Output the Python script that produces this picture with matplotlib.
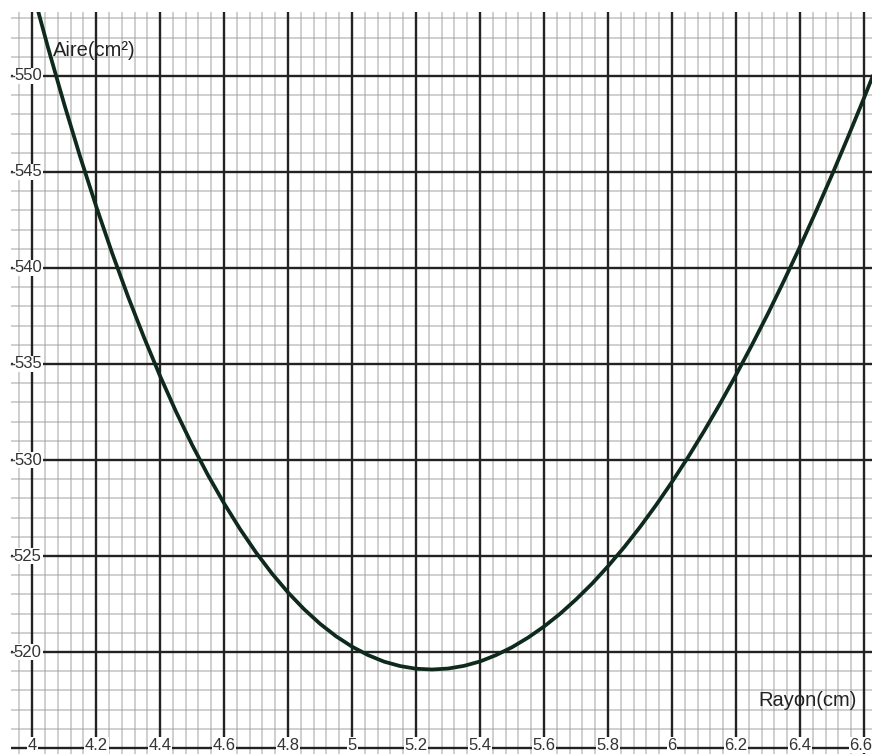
import matplotlib
matplotlib.use("Agg")
import matplotlib.pyplot as plt
import numpy as np

# Data
rayon = [4.00, 4.05, 4.10, 4.15, 4.20, 4.25, 4.30, 4.35, 4.40, 4.45,
         4.50, 4.55, 4.60, 4.65, 4.70, 4.75, 4.80, 4.85, 4.90, 4.95,
         5.00, 5.05, 5.10, 5.15, 5.20, 5.25, 5.30, 5.35, 5.40, 5.45,
         5.50, 5.55, 5.60, 5.65, 5.70, 5.75, 5.80, 5.85, 5.90, 5.95,
         6.00, 6.05, 6.10, 6.15, 6.20, 6.25, 6.30, 6.35, 6.40, 6.45,
         6.50, 6.55, 6.60, 6.65]
aire = [554.53, 551.46, 548.55, 545.80, 543.22, 540.78, 538.50, 536.37, 534.37, 532.51,
        530.79, 529.20, 527.74, 526.40, 525.18, 524.08, 523.10, 522.23, 521.47, 520.82,
        520.28, 519.84, 519.50, 519.27, 519.13, 519.09, 519.14, 519.28, 519.51, 519.84,
        520.25, 520.75, 521.33, 521.99, 522.74, 523.56, 524.47, 525.45, 526.51, 527.65,
        528.86, 530.14, 531.50, 532.93, 534.43, 536.00, 537.63, 539.34, 541.11, 542.95,
        544.85, 546.82, 548.85, 550.94]
x_ticks = [4.0, 4.2, 4.4, 4.6, 4.8, 5.0, 5.2, 5.4, 5.6, 5.8, 6.0, 6.2, 6.4, 6.6]
x_tick_labels = ["4", "4.2", "4.4", "4.6", "4.8", "5", "5.2", "5.4", "5.6", "5.8",
                 "6", "6.2", "6.4", "6.6"]
y_ticks = [520, 525, 530, 535, 540, 545, 550]
y_tick_labels = ["520", "525", "530", "535", "540", "545", "550"]
x_label = "Rayon(cm)"
y_label = "Aire(cm²)"

plt.rcParams['font.family'] = ['Liberation Sans', 'DejaVu Sans']

W, H = 872, 754
fig = plt.figure(figsize=(W / 100, H / 100), dpi=100)
fig.patch.set_facecolor('white')
ax = fig.add_axes([11 / W, 0, (W - 11) / W, (H - 12) / H])

x0, x1 = 3.934, 6.625
y0, y1 = 514.69, 553.33
ax.set_xlim(x0, x1)
ax.set_ylim(y0, y1)
for s in ax.spines.values():
    s.set_visible(False)
ax.set_xticks([])
ax.set_yticks([])

# minor grid
minor_x = np.arange(3.96, 6.64, 0.04)
minor_y = np.arange(515, 554, 1)
for xv in minor_x:
    ax.axvline(xv, color='#9a9a9a', lw=1.2, alpha=0.55, zorder=1)
for yv in minor_y:
    ax.axhline(yv, color='#9a9a9a', lw=1.2, alpha=0.55, zorder=1)

# major grid
for xv in x_ticks:
    ax.axvline(xv, color='#222222', lw=1.7, zorder=2)
for yv in [515] + y_ticks:
    ax.axhline(yv, color='#222222', lw=1.7, zorder=2)

# curve
ax.plot(rayon, aire, color='#0e2a1c', lw=2.7, zorder=4, solid_capstyle='round')

# tick labels
bbox = dict(facecolor='white', edgecolor='none', pad=0.6)
for v, lab in zip(y_ticks, y_tick_labels):
    ax.text(4.030, v, lab, ha='right', va='center', fontsize=12, color='#333333',
            bbox=bbox, zorder=5)
    ax.plot([3.935, 3.943], [v, v], color='#444444', lw=1.0, zorder=6, clip_on=False)
for i, (v, lab) in enumerate(zip(x_ticks, x_tick_labels)):
    if i == len(x_ticks) - 1:
        ax.text(6.6245, 515.15, lab, ha='right', va='center', fontsize=12,
                color='#333333', bbox=dict(facecolor='white', edgecolor='none', pad=0.3),
                zorder=5)
    else:
        ax.text(v, 515.15, lab, ha='center', va='center', fontsize=12, color='#333333',
                bbox=bbox, zorder=5)

ax.text(4.066, 551.3, y_label, ha='left', va='center', fontsize=14.5, color='#222222',
        zorder=5)
ax.text(6.27, 517.5, x_label, ha='left', va='center', fontsize=14.5, color='#222222',
        zorder=5)

fig.savefig('out.png', dpi=100, facecolor='white')
